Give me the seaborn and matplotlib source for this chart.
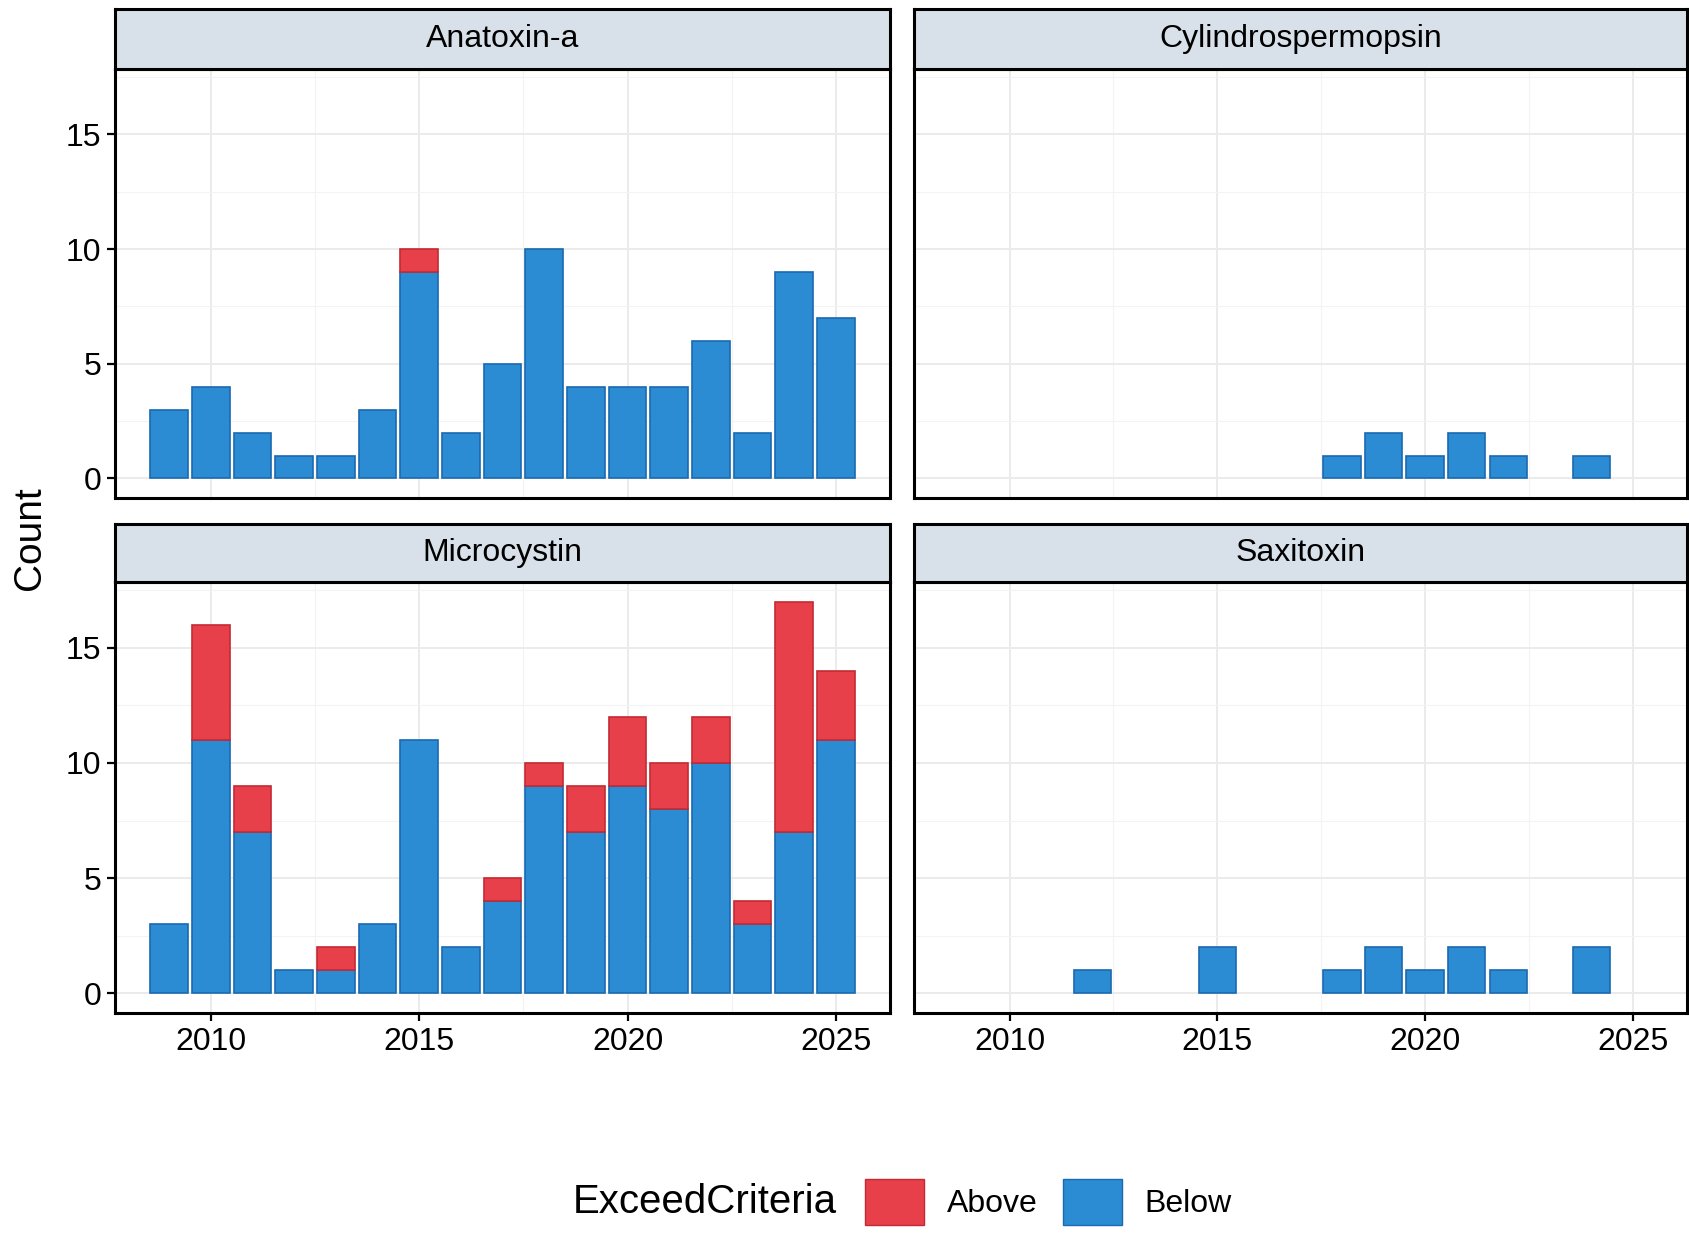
import numpy as np
import pandas as pd
import matplotlib
matplotlib.use('Agg')
import matplotlib.pyplot as plt
from matplotlib.patches import Patch
from matplotlib.ticker import MultipleLocator
import seaborn as sns

years = [2009, 2010, 2011, 2012, 2013, 2014, 2015, 2016, 2017,
         2018, 2019, 2020, 2021, 2022, 2023, 2024, 2025]

anatoxin_below = [3, 4, 2, 1, 1, 3, 9, 2, 5, 10, 4, 4, 4, 6, 2, 9, 7]
anatoxin_above = [0, 0, 0, 0, 0, 0, 1, 0, 0, 0, 0, 0, 0, 0, 0, 0, 0]
cylindro_below = [0, 0, 0, 0, 0, 0, 0, 0, 0, 1, 2, 1, 2, 1, 0, 1, 0]
cylindro_above = [0, 0, 0, 0, 0, 0, 0, 0, 0, 0, 0, 0, 0, 0, 0, 0, 0]
micro_below = [3, 11, 7, 1, 1, 3, 11, 2, 4, 9, 7, 9, 8, 10, 3, 7, 11]
micro_above = [0, 5, 2, 0, 1, 0, 0, 0, 1, 1, 2, 3, 2, 2, 1, 10, 3]
saxi_below = [0, 0, 0, 1, 0, 0, 2, 0, 0, 1, 2, 1, 2, 1, 0, 2, 0]
saxi_above = [0, 0, 0, 0, 0, 0, 0, 0, 0, 0, 0, 0, 0, 0, 0, 0, 0]

toxins = ['Anatoxin-a', 'Cylindrospermopsin', 'Microcystin', 'Saxitoxin']
series = {
    'Anatoxin-a': (anatoxin_below, anatoxin_above),
    'Cylindrospermopsin': (cylindro_below, cylindro_above),
    'Microcystin': (micro_below, micro_above),
    'Saxitoxin': (saxi_below, saxi_above),
}

rows = []
for tox in toxins:
    below, above = series[tox]
    for yr, b, a in zip(years, below, above):
        if b > 0:
            rows.append([tox, yr, 'Below', b])
        if a > 0:
            rows.append([tox, yr, 'Above', a])
df = pd.DataFrame(rows, columns=['Toxin', 'Year', 'ExceedCriteria', 'Count'])

pal = {'Above': '#E8404A', 'Below': '#2B8CD4'}
edge = {'Above': '#C42A33', 'Below': '#1A6AB0'}

sns.set_style('white')
plt.rcParams['font.family'] = ['Liberation Sans', 'DejaVu Sans']
plt.rcParams['text.color'] = 'black'
plt.rcParams['xtick.labelcolor'] = 'black'
plt.rcParams['ytick.labelcolor'] = 'black'

fig = plt.figure(figsize=(16.9, 12.33), dpi=100)

W, H = 1690, 1233
col_x = [(115, 890), (914, 1687)]
row_y = [(9, 69, 498), (524, 582, 1013)]  # strip top, panel top, panel bottom

for i, tox in enumerate(toxins):
    r, c = divmod(i, 2)
    x0, x1 = col_x[c]
    st, pt, pb = row_y[r]
    ax = fig.add_axes([x0 / W, 1 - pb / H, (x1 - x0) / W, (pb - pt) / H])
    sax = fig.add_axes([x0 / W, 1 - pt / H, (x1 - x0) / W, (pt - st) / H])

    sub = df[df['Toxin'] == tox]
    sns.histplot(data=sub, x='Year', weights='Count', hue='ExceedCriteria',
                 hue_order=['Above', 'Below'], palette=pal, multiple='stack',
                 discrete=True, shrink=0.9, alpha=1, linewidth=0,
                 legend=False, ax=ax)
    for p in list(ax.patches):
        if p.get_height() == 0:
            p.remove()
        else:
            fc = p.get_facecolor()
            p.set_edgecolor(edge['Above'] if fc[0] > 0.6 else edge['Below'])
            p.set_linewidth(1.2)

    ax.set_xlim(2007.7, 2026.3)
    ax.set_ylim(-0.85, 17.85)
    ax.set_xticks([2010, 2015, 2020, 2025])
    ax.set_yticks([0, 5, 10, 15])
    ax.xaxis.set_minor_locator(MultipleLocator(2.5))
    ax.yaxis.set_minor_locator(MultipleLocator(2.5))
    ax.grid(which='major', color='#EBEBEB', linewidth=1.4)
    ax.grid(which='minor', color='#F3F3F3', linewidth=0.8)
    ax.set_axisbelow(True)
    ax.set_xlabel('')
    ax.set_ylabel('')
    for s in ax.spines.values():
        s.set_visible(True)
        s.set_color('black')
        s.set_linewidth(2.2)
    ax.tick_params(which='minor', length=0)
    ax.tick_params(which='major', length=6, width=1.6, color='black',
                   labelsize=23, labelcolor='black', pad=4)
    if r == 0:
        ax.tick_params(axis='x', which='major', bottom=False, labelbottom=False)
    else:
        ax.tick_params(axis='x', which='major', bottom=True, labelbottom=True)
    if c == 1:
        ax.tick_params(axis='y', which='major', left=False, labelleft=False)
    else:
        ax.tick_params(axis='y', which='major', left=True, labelleft=True)

    sax.set_facecolor('#D8E1E9')
    sax.set_xticks([])
    sax.set_yticks([])
    for s in sax.spines.values():
        s.set_visible(True)
        s.set_color('black')
        s.set_linewidth(2.2)
    sax.text(0.5, 0.5, tox, ha='center', va='center', fontsize=23,
             color='black', transform=sax.transAxes)

fig.text(30 / W, 1 - 538 / H, 'Count', rotation=90, ha='center', va='center',
         fontsize=28, color='black')

fig.text(573 / W, 1 - 1202 / H, 'ExceedCriteria', ha='left', va='center',
         fontsize=29, color='black')
handles = [Patch(facecolor=pal['Above'], edgecolor=edge['Above']),
           Patch(facecolor=pal['Below'], edgecolor=edge['Below'])]
fig.legend(handles, ['Above', 'Below'], loc='center left',
           bbox_to_anchor=(865 / W, 1 - 1202 / H), ncol=2, frameon=False,
           fontsize=23, handlelength=1.85, handleheight=1.85,
           handletextpad=0.7, columnspacing=0.8, borderpad=0, borderaxespad=0)

fig.savefig('out.png', dpi=100, facecolor='white')
